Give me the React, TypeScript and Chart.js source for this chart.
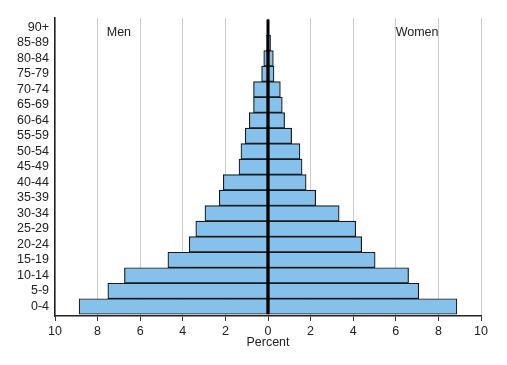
import React, { useEffect, useRef } from "react";
import { Chart, registerables } from "chart.js";

Chart.register(...registerables);

const ageGroups = ["0-4", "5-9", "10-14", "15-19", "20-24", "25-29", "30-34", "35-39", "40-44", "45-49", "50-54", "55-59", "60-64", "65-69", "70-74", "75-79", "80-84", "85-89", "90+"];
const menPercent = [8.87, 7.52, 6.74, 4.70, 3.70, 3.39, 2.96, 2.29, 2.10, 1.36, 1.27, 1.07, 0.88, 0.68, 0.68, 0.30, 0.20, 0.07, 0.03];
const womenPercent = [8.87, 7.08, 6.60, 5.03, 4.40, 4.12, 3.34, 2.24, 1.79, 1.60, 1.50, 1.11, 0.78, 0.67, 0.58, 0.28, 0.25, 0.12, 0.03];
const sideLabels = ["Men", "Women"];
const axisTitle = "Percent";

const FONT = "'Liberation Sans', Arial, sans-serif";
const TEXT = "#222222";
const FS = 12.5;

const overlayPlugin = {
  id: "pyramidOverlay",
  afterDatasetsDraw(chart: any) {
    const { ctx, scales } = chart;
    const xs = scales.x;
    const ys = scales.y;
    const x0 = xs.getPixelForValue(0);
    const yTop = ys.getPixelForValue(ageGroups.length - 1 + 0.5);
    const yBot = ys.getPixelForValue(-0.5);
    ctx.save();
    ctx.strokeStyle = "#000000";
    ctx.lineWidth = 3;
    ctx.beginPath();
    ctx.moveTo(x0, yTop);
    ctx.lineTo(x0, yBot);
    ctx.stroke();
    ctx.fillStyle = TEXT;
    ctx.font = `${FS}px ${FONT}`;
    ctx.textAlign = "center";
    ctx.textBaseline = "middle";
    const ly = ys.getPixelForValue(17.65);
    ctx.fillText(sideLabels[0], xs.getPixelForValue(-7), ly);
    ctx.fillText(sideLabels[1], xs.getPixelForValue(7), ly);
    ctx.restore();
  },
};

export default function App() {
  const ref = useRef<HTMLCanvasElement>(null);
  useEffect(() => {
    if (!ref.current) return;
    const chart = new Chart(ref.current, {
      type: "bar",
      data: {
        datasets: [
          {
            label: sideLabels[0],
            data: menPercent.map((v, i) => ({ x: -v, y: i })),
            backgroundColor: "#85c1eb",
            borderColor: "#1a1a1a",
            borderWidth: 1.2,
            borderSkipped: false,
          },
          {
            label: sideLabels[1],
            data: womenPercent.map((v, i) => ({ x: v, y: i })),
            backgroundColor: "#85c1eb",
            borderColor: "#1a1a1a",
            borderWidth: 1.2,
            borderSkipped: false,
          },
        ],
      },
      options: {
        indexAxis: "y",
        responsive: false,
        animation: false,
        datasets: { bar: { barPercentage: 1, categoryPercentage: 1 } },
        layout: { padding: { top: 18, right: 26, left: 0, bottom: 0 } },
        plugins: { legend: { display: false }, tooltip: { enabled: false } },
        scales: {
          x: {
            type: "linear",
            min: -10,
            max: 10,
            stacked: true,
            afterFit: (s: any) => {
              s.height = 49;
            },
            ticks: {
              stepSize: 2,
              color: TEXT,
              font: { family: FONT, size: FS },
              padding: 3,
              callback: (v: any) => String(Math.abs(Number(v))),
            },
            grid: { color: "#cccccc", lineWidth: 1, tickColor: "#333333", tickLength: 5 },
            border: { display: true, color: "#222222", width: 1.5 },
            title: {
              display: true,
              text: axisTitle,
              color: TEXT,
              font: { family: FONT, size: FS },
              padding: { top: 0, bottom: 15 },
            },
          },
          y: {
            type: "linear",
            offset: false,
            min: -0.613,
            max: 18.6,
            stacked: true,
            afterFit: (s: any) => {
              s.width = 55;
            },
            ticks: {
              stepSize: 1,
              includeBounds: false,
              autoSkip: false,
              color: TEXT,
              font: { family: FONT, size: FS },
              padding: 6,
              callback: (v: any) => ageGroups[Number(v)] ?? "",
            },
            grid: { offset: false, drawOnChartArea: false, drawTicks: false },
            border: { display: true, color: "#222222", width: 1.5 },
          },
        },
      },
      plugins: [overlayPlugin],
    } as any);
    return () => chart.destroy();
  }, []);
  return (
    <div style={{ position: "absolute", left: 0, top: 0, width: 507, height: 365, background: "#fff" }}>
      <canvas ref={ref} width={507} height={365} style={{ display: "block" }} />
    </div>
  );
}
